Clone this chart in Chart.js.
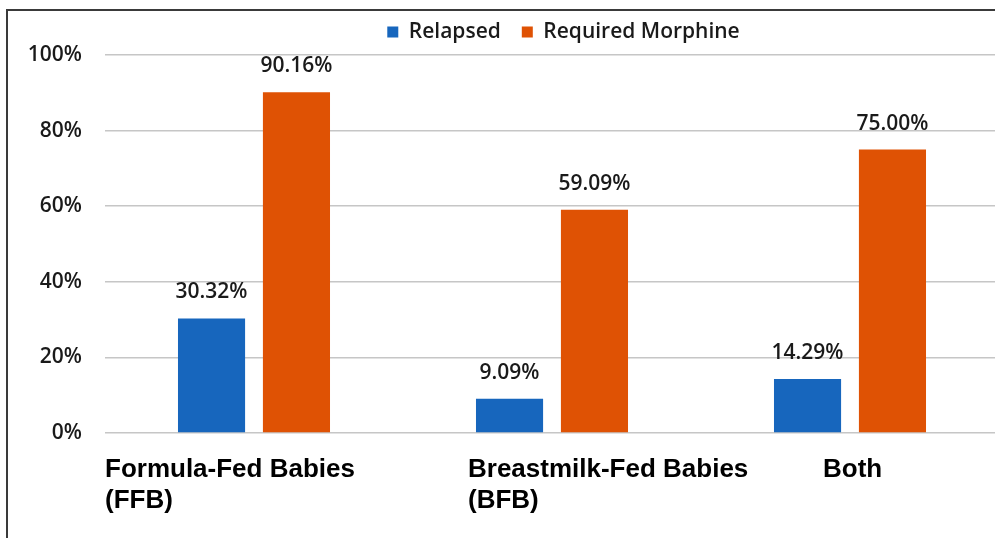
<!DOCTYPE html>
<html>
<head>
<meta charset="utf-8">
<title>Relapse and morphine rates by feeding type</title>
<script src="https://cdn.jsdelivr.net/npm/chart.js@4.4.1/dist/chart.umd.min.js"></script>
<style>
  html, body { margin: 0; padding: 0; background: #ffffff; overflow: hidden; }
  #wrap { position: relative; width: 995px; height: 538px; overflow: hidden; }
  #chart { position: absolute; left: 0; top: 0; }
  #frame {
    position: absolute; left: 6px; top: 9px; right: -20px; bottom: -20px;
    border-top: 2px solid #3a3a3a; border-left: 2px solid #3a3a3a;
    pointer-events: none;
  }
</style>
</head>
<body>
<div id="wrap">
  <canvas id="chart" width="999" height="538"></canvas>
  <div id="frame"></div>
</div>
<script>
// Feeding groups (each entry is the lines of its label)
const categories = [
  ['Formula-Fed Babies', '(FFB)'],
  ['Breastmilk-Fed Babies', '(BFB)'],
  ['Both']
];
// Percent of babies in each group
const relapsed = [30.32, 9.09, 14.29];
const requiredMorphine = [90.16, 59.09, 75.00];
// Value axis ticks
const yTickValues = [0, 20, 40, 60, 80, 100];

const TEXT_FONT = '"Open Sans", "DejaVu Sans", sans-serif';

// Percent labels above each bar
const valueLabels = {
  id: 'valueLabels',
  afterDatasetsDraw(chart) {
    const ctx = chart.ctx;
    ctx.save();
    ctx.font = '600 21px ' + TEXT_FONT;
    ctx.fillStyle = '#1a1a1a';
    ctx.textAlign = 'center';
    ctx.textBaseline = 'alphabetic';
    chart.data.datasets.forEach((ds, di) => {
      chart.getDatasetMeta(di).data.forEach((bar, i) => {
        ctx.fillText(ds.data[i].toFixed(2) + '%', bar.x, bar.y - 20);
      });
    });
    ctx.restore();
  }
};

// Bold group names under the axis, left-aligned with a per-group shift
const groupLabels = {
  id: 'groupLabels',
  afterDraw(chart, args, opts) {
    const ctx = chart.ctx;
    const xs = chart.scales.x;
    ctx.save();
    ctx.font = 'bold 26px "Liberation Sans", Arial, sans-serif';
    ctx.fillStyle = '#000000';
    ctx.textAlign = 'left';
    ctx.textBaseline = 'alphabetic';
    chart.data.labels.forEach((lines, i) => {
      const x = xs.getPixelForValue(i) + opts.shifts[i];
      lines.forEach((line, k) => {
        ctx.fillText(line, x, chart.chartArea.bottom + opts.firstBaseline + k * opts.lineGap);
      });
    });
    ctx.restore();
  }
};

// Move the legend a little right of centre and slightly up
const legendNudge = {
  id: 'legendNudge',
  afterLayout(chart, args, opts) {
    const lg = chart.legend;
    if (!lg) return;
    lg.left += opts.dx; lg.right += opts.dx;
    lg.top += opts.dy; lg.bottom += opts.dy;
  }
};

new Chart(document.getElementById('chart'), {
  type: 'bar',
  data: {
    labels: categories,
    datasets: [
      { label: 'Relapsed', data: relapsed, backgroundColor: '#1766bd', borderWidth: 0 },
      { label: 'Required Morphine', data: requiredMorphine, backgroundColor: '#df5204', borderWidth: 0 }
    ]
  },
  options: {
    responsive: false,
    animation: false,
    devicePixelRatio: 1,
    layout: { padding: { left: 0, right: 0, top: 3, bottom: 105 } },
    categoryPercentage: 0.57,
    barPercentage: 0.79,
    plugins: {
      legend: {
        position: 'top',
        labels: {
          boxWidth: 11,
          boxHeight: 11,
          padding: 21,
          color: '#1a1a1a',
          font: { family: TEXT_FONT, size: 21, weight: '600' }
        }
      },
      tooltip: { enabled: false },
      groupLabels: { shifts: [-149, -84, -27], firstBaseline: 44, lineGap: 30.6 },
      legendNudge: { dx: 64, dy: -2.5 }
    },
    scales: {
      x: {
        display: false,
        offset: true,
        grid: { display: false }
      },
      y: {
        min: 0,
        max: 100,
        afterFit(scale) { scale.width = 105; },
        afterBuildTicks(scale) { scale.ticks = yTickValues.map(v => ({ value: v })); },
        border: { display: false },
        grid: { color: '#c6c6c6', lineWidth: 1.6, drawTicks: false },
        ticks: {
          padding: 23,
          color: '#1a1a1a',
          font: { family: TEXT_FONT, size: 21, weight: '600' },
          callback: v => v + '%'
        }
      }
    }
  },
  plugins: [valueLabels, groupLabels, legendNudge]
});
</script>
</body>
</html>
